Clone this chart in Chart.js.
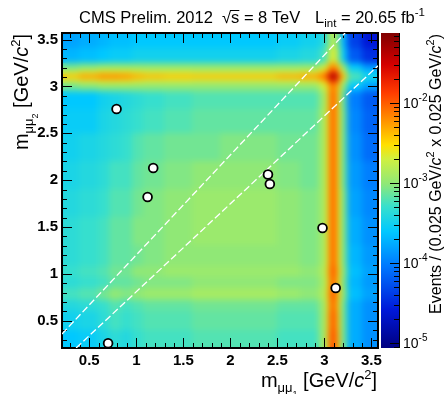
<!DOCTYPE html>
<html>
<head>
<meta charset="utf-8">
<title>Dimuon pair masses</title>
<script src="https://cdn.jsdelivr.net/npm/chart.js@4.4.1/dist/chart.umd.min.js"></script>
<style>
  html, body { margin: 0; padding: 0; background: #fff; }
  #wrap { width: 446px; height: 394px; }
</style>
</head>
<body>
<div id="wrap"><canvas id="mass-chart" width="446" height="394"></canvas></div>
<script>
// bin edges in GeV/c^2, shared by m(mumu1) and m(mumu2)
const massEdges = [0.21, 0.4, 0.6, 0.72, 0.84, 0.96, 1.08, 1.3, 1.6, 1.9, 2.2, 2.5, 2.75, 2.95, 3.03, 3.07, 3.13, 3.17, 3.25, 3.4, 3.57];

// log10(events per bin) of the background model, first row is the top m2 bin
const logDensity = [
  [-3.8, -3.75, -3.7, -3.65, -3.65, -3.6, -3.6, -3.6, -3.6, -3.6, -3.6, -3.55, -3.5, -3.4, -3.05, -2.8, -3.05, -3.7, -4.35, -4.6],
  [-3.7, -3.65, -3.6, -3.55, -3.55, -3.5, -3.5, -3.5, -3.5, -3.5, -3.5, -3.45, -3.4, -3.25, -2.9, -2.65, -2.9, -3.55, -4.2, -4.45],
  [-3.1, -3.05, -3.0, -3.0, -3.0, -3.0, -3.0, -3.0, -3.0, -3.0, -3.0, -3.0, -3.0, -2.8, -2.45, -2.15, -2.45, -3.0, -3.6, -3.9],
  [-2.75, -2.65, -2.6, -2.6, -2.6, -2.65, -2.7, -2.7, -2.75, -2.75, -2.75, -2.7, -2.65, -2.45, -2.0, -1.7, -2.0, -2.7, -3.35, -3.6],
  [-2.4, -2.25, -2.15, -2.15, -2.2, -2.3, -2.35, -2.4, -2.4, -2.4, -2.4, -2.3, -2.25, -2.05, -1.6, -1.25, -1.6, -2.4, -3.2, -3.45],
  [-2.75, -2.65, -2.6, -2.6, -2.6, -2.65, -2.7, -2.7, -2.75, -2.75, -2.75, -2.7, -2.65, -2.45, -2.0, -1.7, -2.0, -2.7, -3.35, -3.6],
  [-3.1, -3.05, -3.0, -3.0, -3.0, -3.0, -3.0, -3.0, -3.0, -3.0, -3.0, -3.0, -3.0, -2.75, -2.4, -2.1, -2.4, -3.0, -3.6, -3.85],
  [-3.6, -3.6, -3.5, -3.45, -3.4, -3.35, -3.3, -3.25, -3.2, -3.2, -3.2, -3.2, -3.2, -2.95, -2.45, -2.0, -2.45, -3.15, -4.0, -4.2],
  [-3.55, -3.55, -3.45, -3.4, -3.35, -3.3, -3.25, -3.2, -3.15, -3.15, -3.15, -3.15, -3.15, -2.9, -2.45, -2.0, -2.45, -3.1, -3.95, -4.15],
  [-3.5, -3.45, -3.4, -3.35, -3.3, -3.2, -3.15, -3.1, -3.1, -3.05, -3.05, -3.1, -3.1, -2.9, -2.45, -2.0, -2.45, -3.1, -3.9, -4.1],
  [-3.45, -3.4, -3.35, -3.25, -3.25, -3.15, -3.1, -3.05, -3.0, -3.0, -3.0, -3.05, -3.1, -2.9, -2.45, -2.0, -2.45, -3.1, -3.85, -4.0],
  [-3.4, -3.35, -3.3, -3.2, -3.2, -3.1, -3.05, -3.0, -2.95, -2.95, -2.95, -3.0, -3.05, -2.9, -2.45, -2.0, -2.45, -3.05, -3.8, -3.95],
  [-3.35, -3.3, -3.25, -3.15, -3.15, -3.05, -3.05, -3.0, -2.95, -2.95, -2.95, -3.0, -3.05, -2.9, -2.45, -2.0, -2.45, -3.05, -3.75, -3.9],
  [-3.35, -3.3, -3.25, -3.15, -3.15, -3.1, -3.05, -3.0, -3.0, -3.0, -3.0, -3.0, -3.05, -2.9, -2.45, -2.0, -2.45, -3.05, -3.7, -3.85],
  [-3.3, -3.25, -3.2, -3.1, -3.1, -3.0, -3.0, -2.95, -2.95, -2.95, -2.95, -2.95, -3.0, -2.85, -2.4, -1.95, -2.4, -3.0, -3.65, -3.8],
  [-3.35, -3.3, -3.25, -3.15, -3.15, -3.1, -3.05, -3.05, -3.0, -3.0, -3.0, -3.05, -3.05, -2.9, -2.45, -2.0, -2.45, -3.05, -3.7, -3.85],
  [-3.25, -3.2, -3.1, -3.0, -3.05, -3.0, -2.95, -2.95, -2.9, -2.9, -2.9, -2.95, -3.0, -2.85, -2.4, -1.95, -2.4, -3.0, -3.65, -3.8],
  [-3.4, -3.35, -3.3, -3.2, -3.25, -3.2, -3.15, -3.15, -3.1, -3.1, -3.1, -3.15, -3.15, -2.95, -2.45, -2.0, -2.45, -3.1, -3.75, -3.9],
  [-3.5, -3.45, -3.35, -3.25, -3.3, -3.25, -3.2, -3.2, -3.15, -3.15, -3.15, -3.2, -3.2, -2.95, -2.4, -1.95, -2.4, -3.1, -3.75, -3.9],
  [-3.6, -3.55, -3.45, -3.35, -3.4, -3.3, -3.25, -3.25, -3.2, -3.2, -3.2, -3.25, -3.25, -2.95, -2.35, -1.9, -2.35, -3.1, -3.75, -3.9]
];

// selected events
const eventM1 = [0.79, 1.18, 1.12, 2.40, 2.42, 2.98, 3.12, 0.70];
const eventM2 = [2.76, 2.13, 1.82, 2.06, 1.96, 1.49, 0.85, 0.26];

// edges of the m1 ~ m2 signal corridor
const upperEdgeM1 = [0.21, 3.22];
const upperEdgeM2 = [0.36, 3.57];
const lowerEdgeM1 = [0.36, 3.57];
const lowerEdgeM2 = [0.21, 3.22];

const axisTicks = [0.5, 1, 1.5, 2, 2.5, 3, 3.5];
const colourDecades = [-5, -4, -3, -2];
const logZMin = -5.06;
const logZMax = -1.12;

const paletteStops = [
  [0, '#000080'], [0.12, '#0018d8'], [0.26, '#0078ff'], [0.37, '#00c8ff'],
  [0.45, '#38e0cc'], [0.52, '#8ee878'], [0.6, '#d0f040'], [0.645, '#ffe000'],
  [0.72, '#ff9400'], [0.81, '#ff3c00'], [0.9, '#d40000'], [1, '#800000']
];

const FONT = '"Liberation Sans", Arial, sans-serif';

function hexToRgb(hex) {
  const n = parseInt(hex.slice(1), 16);
  return [(n >> 16) & 255, (n >> 8) & 255, n & 255];
}

function colourFor(logValue) {
  const t = Math.min(1, Math.max(0, (logValue - logZMin) / (logZMax - logZMin)));
  for (let k = 1; k < paletteStops.length; k++) {
    const [t1, c1] = paletteStops[k];
    if (t <= t1) {
      const [t0, c0] = paletteStops[k - 1];
      const f = (t - t0) / (t1 - t0);
      const a = hexToRgb(c0), b = hexToRgb(c1);
      const rgb = a.map((v, i) => Math.round(v + (b[i] - v) * f));
      return `rgb(${rgb.join(',')})`;
    }
  }
  return paletteStops[paletteStops.length - 1][1];
}

// parts: [{text, size, style, dy}] drawn one after the other on a common baseline
function drawRichText(ctx, parts, x, y, align) {
  const widths = parts.map(p => {
    ctx.font = `${p.style || ''} ${p.size}px ${FONT}`;
    return ctx.measureText(p.text).width;
  });
  const total = widths.reduce((a, b) => a + b, 0);
  let cx = align === 'right' ? x - total : x;
  parts.forEach((p, i) => {
    ctx.font = `${p.style || ''} ${p.size}px ${FONT}`;
    ctx.fillText(p.text, cx, y + (p.dy || 0));
    cx += widths[i];
  });
  return total;
}

const massTitle = (index) => [
  { text: 'm', size: 20 },
  { text: 'μμ', size: 13, dy: 5 },
  { text: index, size: 9, dy: 10 },
  { text: ' [GeV/', size: 20 },
  { text: 'c', size: 20, style: 'italic' },
  { text: '2', size: 13, dy: -8 },
  { text: ']', size: 20 }
];

const heatmapPlugin = {
  id: 'heatmap',
  beforeDatasetsDraw(chart) {
    const { ctx, chartArea: area, scales: { x, y } } = chart;
    const off = document.createElement('canvas');
    off.width = chart.width;
    off.height = chart.height;
    const octx = off.getContext('2d');
    const nBins = massEdges.length - 1;
    logDensity.forEach((row, r) => {
      const j = nBins - 1 - r;
      const yTop = y.getPixelForValue(massEdges[j + 1]);
      const yBot = y.getPixelForValue(massEdges[j]);
      row.forEach((v, i) => {
        const x0 = x.getPixelForValue(massEdges[i]);
        const x1 = x.getPixelForValue(massEdges[i + 1]);
        octx.fillStyle = colourFor(v);
        octx.fillRect(Math.floor(x0), Math.floor(yTop), Math.ceil(x1 - x0) + 1, Math.ceil(yBot - yTop) + 1);
      });
    });

    ctx.save();
    ctx.beginPath();
    ctx.rect(area.left, area.top, area.right - area.left, area.bottom - area.top);
    ctx.clip();
    ctx.drawImage(off, 0, 0);
    ctx.filter = 'blur(3px)';
    ctx.drawImage(off, 0, 0);
    ctx.restore();

    // frame with inward ticks on all four sides
    ctx.save();
    ctx.strokeStyle = '#000';
    ctx.lineWidth = 1;
    ctx.beginPath();
    for (let k = 3; k <= 35; k++) {
      const v = k / 10;
      const len = k % 5 === 0 ? 10 : 5;
      const px = Math.round(x.getPixelForValue(v)) + 0.5;
      const py = Math.round(y.getPixelForValue(v)) + 0.5;
      ctx.moveTo(px, area.bottom); ctx.lineTo(px, area.bottom - len);
      ctx.moveTo(px, area.top); ctx.lineTo(px, area.top + len);
      ctx.moveTo(area.left, py); ctx.lineTo(area.left + len, py);
      ctx.moveTo(area.right, py); ctx.lineTo(area.right - len, py);
    }
    ctx.stroke();
    ctx.lineWidth = 2;
    ctx.strokeRect(area.left, area.top, area.right - area.left, area.bottom - area.top);
    ctx.restore();
  }
};

const decorPlugin = {
  id: 'decor',
  afterDraw(chart) {
    const { ctx, chartArea: area, scales: { z } } = chart;
    ctx.save();
    ctx.fillStyle = '#000';
    ctx.textBaseline = 'alphabetic';

    // colour scale
    const left = area.right + 3, right = area.right + 21;
    const top = z.getPixelForValue(10 ** logZMax);
    const bottom = z.getPixelForValue(10 ** logZMin);
    const grad = ctx.createLinearGradient(0, bottom, 0, top);
    paletteStops.forEach(([t, c]) => grad.addColorStop(t, c));
    ctx.fillStyle = grad;
    ctx.fillRect(left, top, right - left, bottom - top);

    ctx.strokeStyle = '#000';
    ctx.lineWidth = 1;
    ctx.beginPath();
    ctx.moveTo(right + 0.5, top); ctx.lineTo(right + 0.5, bottom);
    for (let d = -6; d <= -1; d++) {
      for (let m = 1; m <= 9; m++) {
        const val = m * 10 ** d;
        if (val < 10 ** logZMin || val > 10 ** logZMax) continue;
        const py = Math.round(z.getPixelForValue(val)) + 0.5;
        ctx.moveTo(right, py);
        ctx.lineTo(right - (m === 1 ? 9 : 5), py);
      }
    }
    ctx.stroke();

    ctx.fillStyle = '#000';
    colourDecades.forEach(d => {
      const py = z.getPixelForValue(10 ** d);
      drawRichText(ctx, [
        { text: '10', size: 14 },
        { text: String(d), size: 10, dy: -7 }
      ], right + 4, py + 5, 'left');
    });

    // header
    drawRichText(ctx, [{ text: 'CMS Prelim. 2012', size: 16.5 }], 79, 23, 'left');
    const rootW = drawRichText(ctx, [{ text: '√', size: 16.5 }], 222, 23, 'left');
    const sW = drawRichText(ctx, [{ text: 's', size: 16.5 }], 222 + rootW, 23, 'left');
    ctx.beginPath();
    ctx.moveTo(222 + rootW - 1, 10.5);
    ctx.lineTo(222 + rootW + sW, 10.5);
    ctx.stroke();
    drawRichText(ctx, [{ text: ' = 8 TeV', size: 16.5 }], 222 + rootW + sW, 23, 'left');
    drawRichText(ctx, [
      { text: 'L', size: 16.5 },
      { text: 'int', size: 11.5, dy: 4 },
      { text: ' = 20.65 fb', size: 16.5 },
      { text: '-1', size: 11.5, dy: -7 }
    ], 315, 23, 'left');

    // axis titles
    drawRichText(ctx, massTitle('1'), 377, 387, 'right');

    ctx.save();
    ctx.translate(28, 34);
    ctx.rotate(-Math.PI / 2);
    drawRichText(ctx, massTitle('2'), 0, 0, 'right');
    ctx.restore();

    ctx.save();
    ctx.translate(441, 34);
    ctx.rotate(-Math.PI / 2);
    drawRichText(ctx, [
      { text: 'Events / (0.025 GeV/', size: 16 },
      { text: 'c', size: 16, style: 'italic' },
      { text: '2', size: 11, dy: -7 },
      { text: ' x 0.025 GeV/', size: 16 },
      { text: 'c', size: 16, style: 'italic' },
      { text: '2', size: 11, dy: -7 },
      { text: ')', size: 16 }
    ], 0, 0, 'right');
    ctx.restore();

    ctx.restore();
  }
};

const massAxis = (fitSize) => ({
  type: 'linear',
  min: 0.21,
  max: 3.57,
  afterBuildTicks: scale => { scale.ticks = axisTicks.map(v => ({ value: v })); },
  afterFit: fitSize,
  grid: { display: false, drawTicks: false },
  border: { display: false },
  ticks: {
    color: '#000',
    padding: 4,
    font: { family: FONT, size: 15, weight: 'bold' },
    callback: v => String(v)
  }
});

new Chart(document.getElementById('mass-chart'), {
  type: 'scatter',
  data: {
    datasets: [
      {
        label: 'events',
        data: eventM1.map((m1, i) => ({ x: m1, y: eventM2[i] })),
        pointRadius: 4.4,
        pointBackgroundColor: '#fff',
        pointBorderColor: '#000',
        pointBorderWidth: 1.8,
        clip: false,
        order: 0
      },
      {
        label: 'upper corridor edge',
        data: upperEdgeM1.map((m1, i) => ({ x: m1, y: upperEdgeM2[i] })),
        showLine: true,
        borderColor: '#fff',
        borderWidth: 1.3,
        borderDash: [7, 3],
        pointRadius: 0,
        order: 1
      },
      {
        label: 'lower corridor edge',
        data: lowerEdgeM1.map((m1, i) => ({ x: m1, y: lowerEdgeM2[i] })),
        showLine: true,
        borderColor: '#fff',
        borderWidth: 1.3,
        borderDash: [7, 3],
        pointRadius: 0,
        order: 1
      }
    ]
  },
  options: {
    responsive: false,
    animation: false,
    devicePixelRatio: 1,
    layout: { padding: { top: 33, right: 68, left: 0, bottom: 0 } },
    plugins: { legend: { display: false }, tooltip: { enabled: false } },
    scales: {
      x: massAxis(scale => { scale.height = 46; }),
      y: massAxis(scale => { scale.width = 62; }),
      z: {
        type: 'logarithmic',
        position: 'right',
        display: false,
        min: 10 ** logZMin,
        max: 10 ** logZMax
      }
    }
  },
  plugins: [heatmapPlugin, decorPlugin]
});
</script>
</body>
</html>
